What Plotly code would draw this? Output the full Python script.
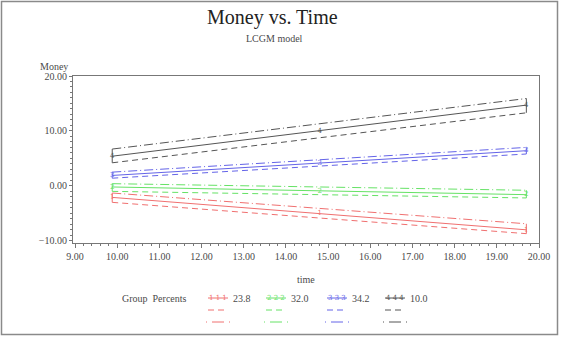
import plotly.graph_objects as go

# Estimated group trajectories (LCGM), mean with lower / upper bounds
time = [9.88, 14.8, 19.7]
group_labels = ["1", "2", "3", "4"]
group_percents = ["23.8", "32.0", "34.2", "10.0"]
group_colors = ["#f07070", "#66e266", "#6464e8", "#555555"]

mean_1 = [-2.1, -5.0, -8.0]
lower_1 = [-3.0, -5.8, -8.7]
upper_1 = [-1.3, -4.1, -6.9]

mean_2 = [-0.2, -0.9, -1.6]
lower_2 = [-1.0, -1.6, -2.2]
upper_2 = [0.4, -0.2, -0.8]

mean_3 = [1.9, 4.1, 6.4]
lower_3 = [1.4, 3.6, 5.8]
upper_3 = [2.5, 4.7, 7.0]

mean_4 = [5.4, 10.0, 14.7]
lower_4 = [4.2, 8.8, 13.3]
upper_4 = [6.7, 11.3, 15.9]

means = [mean_1, mean_2, mean_3, mean_4]
lowers = [lower_1, lower_2, lower_3, lower_4]
uppers = [upper_1, upper_2, upper_3, upper_4]

x_ticks = [9, 10, 11, 12, 13, 14, 15, 16, 17, 18, 19, 20]
y_ticks = [-10, 0, 10, 20]

SYMBOL_FONT = "'DejaVu Serif', serif"
FONT = "'Liberation Serif', serif"
DASHDOT = "9px,3px,1px,3px"
TEXT = "#4a4a4a"

# plot area in pixels (561 x 337 page)
L, R, T, B = 73, 539, 76, 243
W, H = 561, 337


def px(x):
    return (x - L) / (R - L)


def py(y):
    return (B - y) / (B - T)


fig = go.Figure()

for lab, col, m, lo, up in zip(group_labels, group_colors, means, lowers, uppers):
    fig.add_trace(go.Scatter(x=time, y=lo, mode="lines",
                             line=dict(color=col, width=1, dash="6px,4px"),
                             hoverinfo="skip"))
    fig.add_trace(go.Scatter(x=time, y=up, mode="lines",
                             line=dict(color=col, width=1, dash=DASHDOT),
                             hoverinfo="skip"))
    # bracket joining the bounds at the first and last time points
    plus = [u - v if i in (0, len(time) - 1) else 0 for i, (u, v) in enumerate(zip(up, m))]
    minus = [v - d if i in (0, len(time) - 1) else 0 for i, (v, d) in enumerate(zip(m, lo))]
    fig.add_trace(go.Scatter(
        x=time, y=m, mode="lines+text", text=[lab] * len(time),
        textposition="middle center",
        textfont=dict(family=SYMBOL_FONT, size=7, color=col),
        line=dict(color=col, width=1),
        error_y=dict(type="data", symmetric=False, array=plus, arrayminus=minus,
                     width=0, thickness=1, color=col),
    ))

shapes = [
    # outer frame of the page
    dict(type="rect", xref="paper", yref="paper",
         x0=px(1.5), x1=px(557.5), y0=py(334.5), y1=py(1.5),
         line=dict(color="#8a8a8a", width=1.5), layer="below"),
]
annotations = [
    dict(text="Money vs. Time", x=px(272), y=py(18), xref="paper", yref="paper",
         showarrow=False, font=dict(family=FONT, size=20, color="#222"),
         xanchor="center", yanchor="middle"),
    dict(text="LCGM model", x=px(274), y=py(39), xref="paper", yref="paper",
         showarrow=False, font=dict(family=FONT, size=10, color=TEXT),
         xanchor="center", yanchor="middle"),
    dict(text="Money", x=px(38), y=py(66), xref="paper", yref="paper",
         showarrow=False, font=dict(family=FONT, size=10, color=TEXT),
         xanchor="left", yanchor="middle"),
    dict(text="time", x=px(306), y=py(279), xref="paper", yref="paper",
         showarrow=False, font=dict(family=FONT, size=10, color=TEXT),
         xanchor="center", yanchor="middle"),
    dict(text="Group  Percents", x=px(189), y=py(298), xref="paper", yref="paper",
         showarrow=False, font=dict(family=FONT, size=10, color=TEXT),
         xanchor="right", yanchor="middle"),
]

# legend: solid line with group symbol, dashed lower, dash-dot upper
sample_x = [208, 266, 327, 385]
for sx, lab, col, pct in zip(sample_x, group_labels, group_colors, group_percents):
    shapes.append(dict(type="line", xref="paper", yref="paper",
                       x0=px(sx), x1=px(sx + 20), y0=py(298), y1=py(298),
                       line=dict(color=col, width=1)))
    annotations.append(dict(text=" ".join([lab] * 3), x=px(sx + 10), y=py(298),
                            xref="paper", yref="paper", showarrow=False,
                            font=dict(family=SYMBOL_FONT, size=7, color=col),
                            xanchor="center", yanchor="middle"))
    annotations.append(dict(text=pct, x=px(sx + 23), y=py(298),
                            xref="paper", yref="paper", showarrow=False,
                            font=dict(family=FONT, size=10, color=TEXT),
                            xanchor="left", yanchor="middle"))
    shapes.append(dict(type="line", xref="paper", yref="paper",
                       x0=px(sx), x1=px(sx + 20), y0=py(310), y1=py(310),
                       line=dict(color=col, width=1, dash="6px,4px")))
    shapes.append(dict(type="line", xref="paper", yref="paper",
                       x0=px(sx - 2), x1=px(sx + 22), y0=py(322), y1=py(322),
                       line=dict(color=col, width=1, dash="1px,5px,12px,5px")))

axis_common = dict(showline=True, linecolor="#777", linewidth=1, mirror=True,
                   ticks="outside", tickcolor="#777", showgrid=False, zeroline=False,
                   tickfont=dict(family=FONT, size=10, color=TEXT))

fig.update_layout(
    width=W, height=H,
    margin=dict(l=L, r=W - R, t=T, b=H - B),
    paper_bgcolor="white", plot_bgcolor="white",
    showlegend=False,
    font=dict(family=FONT),
    shapes=shapes, annotations=annotations,
    xaxis=dict(range=[8.95, 20.0], tickvals=x_ticks, tickformat=".2f", ticklen=4,
               minor=dict(dtick=0.2, ticklen=2, ticks="outside", tickcolor="#777"),
               **axis_common),
    yaxis=dict(range=[-10.4, 20.0], tickvals=y_ticks, tickformat=".2f", ticklen=3,
               minor=dict(dtick=1, ticklen=2, ticks="outside", tickcolor="#777"),
               **axis_common),
)

fig.write_html("out.html")
